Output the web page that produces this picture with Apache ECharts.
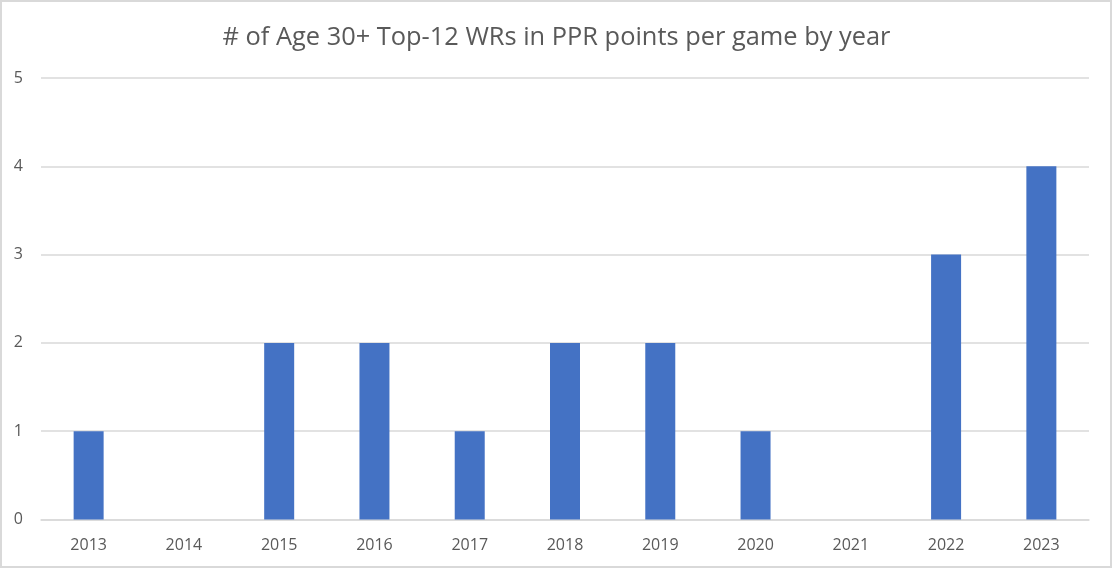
<!DOCTYPE html>
<html>
<head>
<meta charset="utf-8">
<script src="https://cdn.jsdelivr.net/npm/echarts@6/dist/echarts.min.js"></script>
<style>html,body{margin:0;padding:0;background:#fff;}#c{width:1113px;height:569px;}</style>
</head>
<body>
<div id="c"></div>
<script>
var categories = ['2013','2014','2015','2016','2017','2018','2019','2020','2021','2022','2023'];
var values = [1,0,2,2,1,2,2,1,0,3,4];
var chart = echarts.init(document.getElementById('c'));
chart.setOption({
  animation: false,
  backgroundColor: '#fff',
  title: {
    text: '# of Age 30+ Top-12 WRs in PPR points per game by year',
    left: 'center', top: 20,
    textStyle: {fontFamily: 'Open Sans', fontSize: 25.4, fontWeight: 'normal', color: '#595959'}
  },
  graphic: [{type: 'rect', shape: {x: 1, y: 1, width: 1110, height: 566}, style: {fill: 'none', stroke: '#d9d9d9', lineWidth: 2}, silent: true}],
  grid: {left: 41, right: 24, top: 78, bottom: 49.5},
  xAxis: {
    type: 'category', data: categories,
    axisLine: {show: true, lineStyle: {color: '#d9d9d9', width: 1.5}},
    axisTick: {show: false},
    axisLabel: {color: '#595959', fontFamily: 'Open Sans', fontSize: 16, margin: 18}
  },
  yAxis: {
    type: 'value', min: 0, max: 5, interval: 1,
    axisLine: {show: false}, axisTick: {show: false},
    splitLine: {lineStyle: {color: '#d9d9d9', width: 1.5}},
    axisLabel: {color: '#595959', fontFamily: 'Open Sans', fontSize: 16, margin: 18}
  },
  series: [{type: 'bar', data: values, barWidth: 30, itemStyle: {color: '#4472C4'}}]
});
</script>
</body>
</html>
